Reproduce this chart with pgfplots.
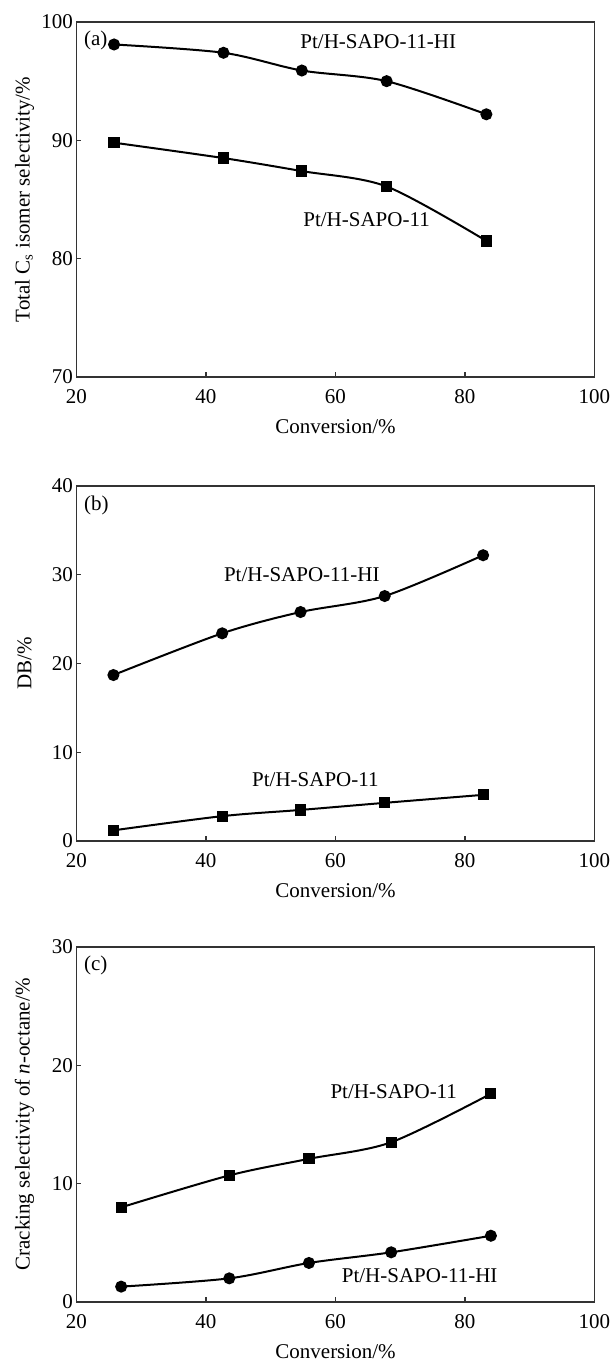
\documentclass[border=0pt]{standalone}
\usepackage{fontspec}
\setmainfont{Liberation Serif}
\usepackage{pgfplots}
\pgfplotsset{compat=1.18}
\begin{document}
\pgfplotsset{
  myax/.style={
    scale only axis, width=518pt, height=355pt,
    xmin=20, xmax=100, xtick={20,40,60,80,100},
    tick pos=left, tick align=inside,
    major tick length=5pt,
    axis line style={line width=1.3pt, black!80},
    every tick/.style={line width=1.2pt, black!80},
    /pgf/number format/assume math mode=true,
    tick label style={font=\fontsize{21}{24}\selectfont},
    xticklabel style={yshift=-9pt},
    label style={font=\fontsize{21}{24}\selectfont},
    xlabel style={at={(axis description cs:0.5,-0.14)}, anchor=center},
    ylabel style={at={(axis description cs:-0.1004,0.5)}, anchor=center},
    xlabel={Conversion/\%},
  },
  myline/.style={black, line width=2pt, smooth, tension=0.5},
  circ/.style={myline, mark=*, mark size=5pt, mark options={solid, fill=black}},
  sq/.style={myline, mark=square*, mark size=4.6pt, mark options={solid, fill=black}},
}
\begin{tikzpicture}
\useasboundingbox (-74pt,-985pt) rectangle (537pt,377pt);
% (a)
\begin{axis}[myax, at={(0pt,0pt)}, anchor=south west,
  ymin=70, ymax=100, ytick={70,80,90,100},
  ylabel={Total C\textsubscript{s} isomer selectivity/\%}]
\addplot[circ] coordinates {(25.8,98.1) (42.7,97.4) (54.8,95.9) (67.9,95.0) (83.3,92.2)};
\addplot[sq] coordinates {(25.8,89.8) (42.7,88.5) (54.8,87.4) (67.9,86.1) (83.3,81.5)};
\node[font=\fontsize{21}{24}\selectfont, anchor=west] at (rel axis cs:0.008,0.949) {(a)};
\node[font=\fontsize{21}{24}\selectfont] at (axis cs:66.6,98.3) {Pt/H-SAPO-11-HI};
\node[font=\fontsize{21}{24}\selectfont] at (axis cs:64.8,83.3) {Pt/H-SAPO-11};
\end{axis}
% (b)
\begin{axis}[myax, at={(0pt,-464pt)}, anchor=south west,
  ymin=0, ymax=40, ytick={0,10,20,30,40},
  ylabel={DB/\%}]
\addplot[circ] coordinates {(25.7,18.7) (42.5,23.4) (54.6,25.8) (67.6,27.6) (82.8,32.2)};
\addplot[sq] coordinates {(25.7,1.2) (42.5,2.8) (54.6,3.5) (67.6,4.3) (82.8,5.2)};
\node[font=\fontsize{21}{24}\selectfont, anchor=west] at (rel axis cs:0.008,0.945) {(b)};
\node[font=\fontsize{21}{24}\selectfont] at (axis cs:54.8,30.0) {Pt/H-SAPO-11-HI};
\node[font=\fontsize{21}{24}\selectfont] at (axis cs:56.9,6.9) {Pt/H-SAPO-11};
\end{axis}
% (c)
\begin{axis}[myax, at={(0pt,-925pt)}, anchor=south west,
  ymin=0, ymax=30, ytick={0,10,20,30},
  ylabel={Cracking selectivity of \textit{n}-octane/\%}]
\addplot[sq] coordinates {(26.9,8.0) (43.6,10.7) (55.9,12.1) (68.6,13.5) (84.0,17.6)};
\addplot[circ] coordinates {(26.9,1.3) (43.6,2.0) (55.9,3.3) (68.6,4.2) (84.0,5.6)};
\node[font=\fontsize{21}{24}\selectfont, anchor=west] at (rel axis cs:0.008,0.947) {(c)};
\node[font=\fontsize{21}{24}\selectfont] at (axis cs:69.0,17.8) {Pt/H-SAPO-11};
\node[font=\fontsize{21}{24}\selectfont] at (axis cs:73.0,2.2) {Pt/H-SAPO-11-HI};
\end{axis}
\end{tikzpicture}
\end{document}
